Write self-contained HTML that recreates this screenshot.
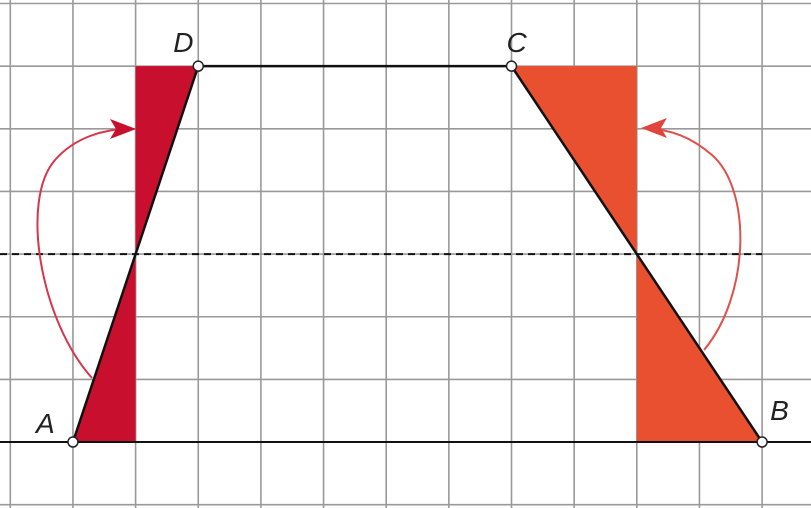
<!DOCTYPE html>
<html><head><meta charset="utf-8"><style>
html,body{margin:0;padding:0;background:#fff;}
svg{display:block;}
text{font-family:"Liberation Sans",sans-serif;font-style:italic;font-size:28px;fill:#222;}
</style></head><body>
<svg id="fig" width="811" height="508" viewBox="0 0 811 508" xmlns="http://www.w3.org/2000/svg">
<g id="grid"></g>
<g id="shapes"></g>
</svg>
<script>
const gridX0 = 10.3, gridY0 = 3.5, step = 62.65;
const colsN = 13, rowsN = 9;
// points in grid units (col,row)
const pointNames = ['A','B','C','D'];
const pointCols = [1,12,8,3];
const pointRows = [7,7,1,1];
const midRow = 4;
const NS='http://www.w3.org/2000/svg';
const X=c=>gridX0+c*step, Y=r=>gridY0+r*step;
function mk(parent,tag,attrs){const e=document.createElementNS(NS,tag);for(const k in attrs)e.setAttribute(k,attrs[k]);parent.appendChild(e);return e;}
const grid=document.getElementById('grid'), sh=document.getElementById('shapes');
for(let i=0;i<colsN;i++){const l=mk(grid,'line',{x1:X(i),y1:0,x2:X(i),y2:508,stroke:'#999','stroke-width':1.6});

}
for(let j=0;j<rowsN;j++){const l=mk(grid,'line',{x1:0,y1:Y(j),x2:811,y2:Y(j),stroke:'#999','stroke-width':1.6});

}
const P=pointNames.map((n,i)=>[X(pointCols[i]),Y(pointRows[i])]);
const [A,B,C,D]=P;
const ym=Y(midRow);
const lx=A[0]+(D[0]-A[0])*(ym-A[1])/(D[1]-A[1]);
const rx=B[0]+(C[0]-B[0])*(ym-B[1])/(C[1]-B[1]);
const polys=[
 [[lx,D[1]],[D[0],D[1]],[lx,ym]],'#c8102e','left-top-triangle',
 [[A[0],A[1]],[lx,ym],[lx,A[1]]],'#c8102e','left-bottom-triangle',
 [[C[0],C[1]],[rx,C[1]],[rx,ym]],'#e8502f','right-top-triangle',
 [[rx,ym],[B[0],B[1]],[rx,B[1]]],'#e8502f','right-bottom-triangle'];
for(let i=0;i<polys.length;i+=3){const p=mk(sh,'polygon',{points:polys[i].map(q=>q.join(',')).join(' '),fill:polys[i+1]});

}
const dl=mk(sh,'line',{x1:0,y1:ym,x2:B[0],y2:ym,stroke:'#111','stroke-width':2,'stroke-dasharray':'7,5'});


const base=mk(sh,'line',{x1:0,y1:A[1],x2:811,y2:A[1],stroke:'#111','stroke-width':2});


const tr=mk(sh,'polyline',{points:[A,D,C,B].map(q=>q.join(',')).join(' '),fill:'none',stroke:'#111','stroke-width':2.5});


const a1=mk(sh,'path',{d:`M92,378 C40,320 20,200 55,160 C75,137 105,129 128,129`,fill:'none',stroke:'#d8344a','stroke-width':2});


const h1=mk(sh,'polygon',{points:'136,129 110,119 116,129 110,139',fill:'#c8102e'});


const a2=mk(sh,'path',{d:`M704,350 C750,295 752,190 712,155 C690,136 668,129 648,129`,fill:'none',stroke:'#e0504a','stroke-width':2});


const h2=mk(sh,'polygon',{points:'641,128 667,118 661,128 667,138',fill:'#e0443a'});


const labOff=[[-37,-9],[8,-22],[-5,-14],[-25,-14]];
P.forEach((q,i)=>{const c=mk(sh,'circle',{cx:q[0],cy:q[1],r:5,fill:'#fff',stroke:'#222','stroke-width':1.5});


const t=mk(sh,'text',{x:q[0]+labOff[i][0],y:q[1]+labOff[i][1]});t.textContent=pointNames[i];

});
</script>
</body></html>
